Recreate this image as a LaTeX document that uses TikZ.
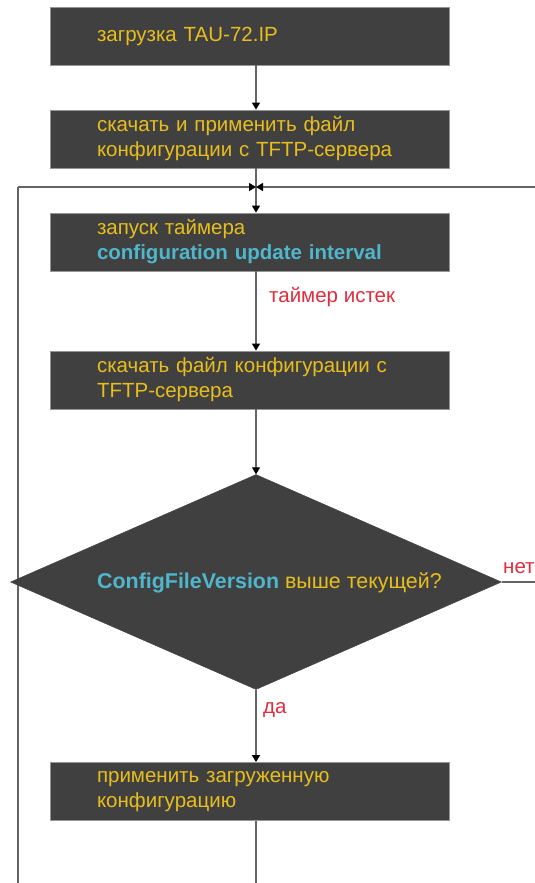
\documentclass[tikz,border=0pt]{standalone}
\usepackage{fontspec}
\setmainfont{Liberation Sans}
\usetikzlibrary{shapes.geometric,arrows.meta}
\definecolor{boxfill}{RGB}{64,64,64}
\definecolor{boxline}{RGB}{150,150,150}
\definecolor{txtyel}{RGB}{232,190,30}
\definecolor{txtcyan}{RGB}{80,182,204}
\definecolor{txtred}{RGB}{222,46,62}
\definecolor{lncol}{RGB}{100,100,100}
\tikzset{
  x=1pt,y=-1pt,
  stepbox/.style={draw=boxline,line width=0.8pt,fill=boxfill,minimum width=399pt,minimum height=58pt,
    text width=305pt,inner xsep=47pt,inner ysep=0pt,align=left,text=txtyel,
    font=\fontsize{20.5}{25}\selectfont},
  decision/.style={diamond,draw=boxfill,fill=boxfill,minimum width=491pt,minimum height=215pt,inner sep=0pt},
  conn/.style={draw=lncol,line width=1.2pt,-{Triangle[width=8pt,length=7pt,black]}},
  plain/.style={draw=lncol,line width=1.2pt},
  redlbl/.style={text=txtred,font=\fontsize{20.5}{24}\selectfont,inner sep=0pt,anchor=west},
}
\begin{document}
\begin{tikzpicture}
\clip (0,0) rectangle (535,883);
\fill[white] (0,0) rectangle (535,883);
\coordinate (j) at (256,187);
\coordinate (lt) at (18,187);
\coordinate (lb) at (18,883);
\coordinate (rt) at (535,187);
\coordinate (rn) at (535,582);
\coordinate (bb) at (256,883);
% left loop line behind diamond
\draw[plain] (lb) -- (lt);
\node[stepbox] (b1) at (249.5,36) {загрузка TAU-72.IP};
\node[stepbox] (b2) at (249.5,139) {скачать и применить файл\\конфигурации с TFTP-сервера};
\node[stepbox] (b3) at (249.5,242) {запуск таймера\\{\color{txtcyan}\bfseries configuration update interval}};
\node[stepbox] (b4) at (249.5,380) {скачать файл конфигурации с\\TFTP-сервера};
\node[decision] (d1) at (256,582) {};
\node[anchor=west,inner sep=0pt,text=txtyel,font=\fontsize{21.4}{25}\selectfont] (dt) at (97,583) {{\color{txtcyan}\bfseries ConfigFileVersion} выше текущей?};
\node[stepbox] (b5) at (249.5,791.5) {применить загруженную\\конфигурацию};
\node[redlbl] (l1) at (269,297) {таймер истек};
\node[redlbl] (l2) at (503,568) {нет};
\node[redlbl] (l3) at (263,710) {да};
\draw[conn] (b1.south -| j) -- (b2.north -| j);
\draw[conn] (b2.south -| j) -- (b3.north -| j);
\draw[conn] (lt) -- (j);
\draw[conn] (rt) -- (j);
\draw[conn] (b3.south -| j) -- (b4.north -| j);
\draw[conn] (b4.south -| j) -- (d1.north);
\draw[conn] (d1.south) -- (b5.north -| j);
\draw[plain] (d1.east) -- (rn);
\draw[plain] (b5.south -| j) -- (bb);
\end{tikzpicture}
\end{document}
